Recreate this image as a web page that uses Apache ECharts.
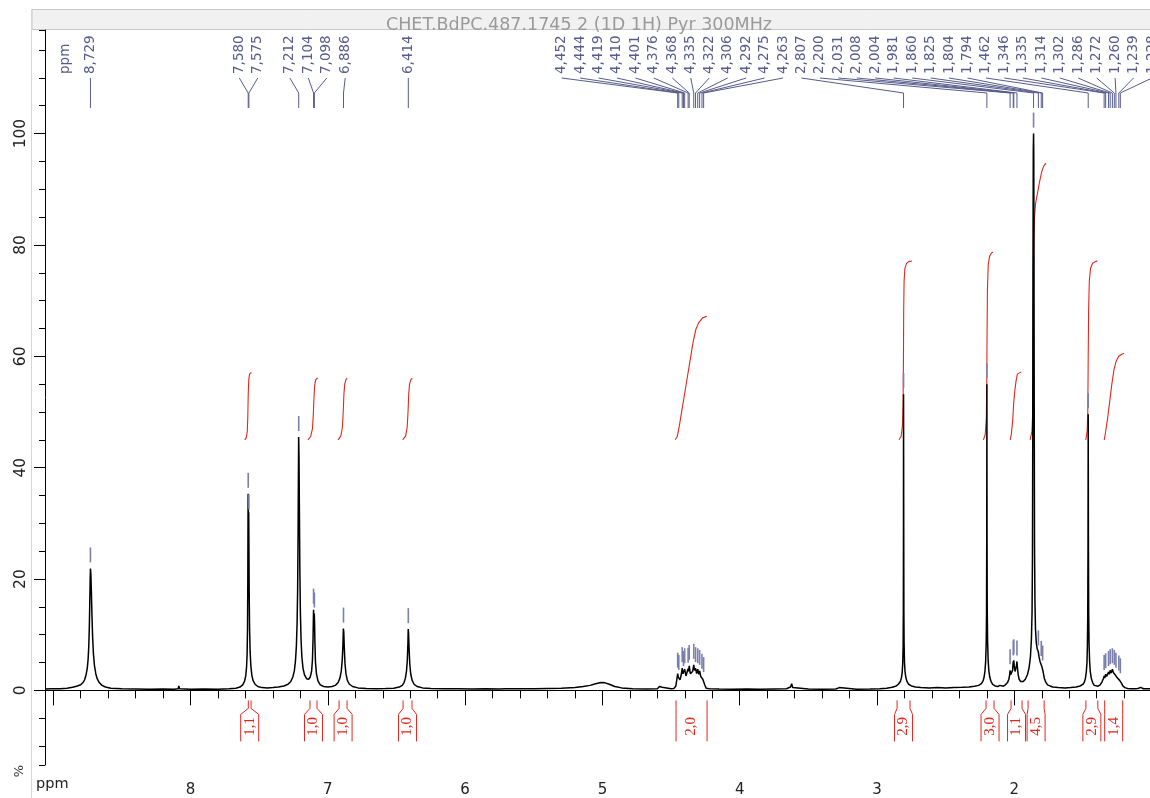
<!DOCTYPE html>
<html>
<head>
<meta charset="utf-8">
<script src="https://cdn.jsdelivr.net/npm/echarts@6/dist/echarts.min.js"></script>
<style>
  html, body { margin: 0; padding: 0; background: #ffffff; }
  #chart { width: 1150px; height: 798px; }
</style>
</head>
<body>
<div id="chart"></div>
<script>
// 1H NMR spectrum, pyridine-d5, 300 MHz
const TITLE = 'CHET.BdPC.487.1745 2 (1D 1H) Pyr 300MHz';
const X_RANGE = [1.012, 9.06];      // ppm, drawn right-to-left
const Y_RANGE = [-13.4, 118.6];     // relative intensity, %

// Spectrum trace [ppm, intensity] — aromatic part
const SPECTRUM_AROMATIC = [
  [9.06,0.25],[9.0,0.3],[8.95,0.3],[8.9,0.4],[8.86,0.55],[8.83,0.75],[8.8,1.0],[8.78,1.5],[8.77,2.0],
  [8.76,2.9],[8.752,4.0],[8.746,5.6],[8.741,8.0],[8.737,11.5],[8.734,15.5],[8.731,20],[8.729,21.9],
  [8.726,21.0],[8.722,17.5],[8.718,13.5],[8.713,9.5],[8.707,6.5],[8.7,4.5],[8.69,3.0],[8.68,2.1],
  [8.665,1.4],[8.645,0.9],[8.62,0.6],[8.58,0.4],[8.5,0.3],[8.4,0.25],[8.3,0.2],[8.2,0.25],[8.12,0.2],
  [8.09,0.3],[8.085,0.8],[8.08,0.3],[8.0,0.2],[7.9,0.25],[7.8,0.2],[7.72,0.3],[7.67,0.4],[7.64,0.6],
  [7.62,1.0],[7.607,1.6],[7.598,2.6],[7.592,4.2],[7.588,6.5],[7.585,11],[7.583,19],[7.5815,30],
  [7.5805,35.3],[7.5785,31.4],[7.5765,32.0],[7.575,27],[7.573,18],[7.57,11],[7.566,7],[7.561,4.5],
  [7.554,2.8],[7.545,1.8],[7.53,1.1],[7.51,0.7],[7.48,0.5],[7.44,0.45],[7.4,0.5],[7.36,0.6],[7.32,0.8],
  [7.29,1.1],[7.27,1.6],[7.255,2.4],[7.244,3.5],[7.236,5.2],[7.229,8],[7.224,12],[7.22,18],[7.217,27],
  [7.2145,38],[7.2125,45.5],[7.21,42],[7.207,32],[7.204,22],[7.2,14],[7.195,9],[7.189,6],[7.181,4],
  [7.17,2.8],[7.155,2.1],[7.14,2.0],[7.128,2.4],[7.118,3.5],[7.112,5.5],[7.108,9],[7.1055,12.5],
  [7.104,14.5],[7.1015,11.8],[7.099,13.8],[7.097,12.5],[7.094,8.5],[7.09,5],[7.083,3],[7.072,1.7],
  [7.055,1.0],[7.03,0.7],[7.0,0.6],[6.97,0.7],[6.945,0.9],[6.925,1.4],[6.912,2.2],[6.902,3.5],
  [6.895,5.5],[6.89,8.2],[6.887,11.1],[6.884,10.5],[6.88,7.5],[6.875,4.8],[6.868,3],[6.858,1.8],
  [6.843,1.1],[6.82,0.7],[6.78,0.45],[6.72,0.35],[6.65,0.3],[6.58,0.35],[6.52,0.4],[6.48,0.6],
  [6.458,0.9],[6.445,1.4],[6.435,2.2],[6.427,3.5],[6.421,5.5],[6.417,8.3],[6.4145,11],[6.412,10.3],
  [6.408,7.3],[6.403,4.7],[6.396,2.9],[6.386,1.8],[6.372,1.1],[6.35,0.7],[6.31,0.45],[6.25,0.35]
];

// Spectrum trace — middle part (water hump, CH multiplet)
const SPECTRUM_MIDDLE = [
  [6.15,0.3],[6.05,0.3],[5.95,0.25],[5.85,0.3],[5.75,0.25],[5.705,0.3],[5.7,0.6],[5.695,0.3],[5.6,0.3],
  [5.5,0.3],[5.4,0.35],[5.3,0.4],[5.2,0.5],[5.14,0.7],[5.09,0.9],[5.05,1.2],[5.01,1.4],[4.98,1.35],
  [4.95,1.1],[4.91,0.7],[4.86,0.45],[4.78,0.3],[4.68,0.25],[4.6,0.3],[4.585,0.7],[4.575,0.35],
  [4.565,0.55],[4.555,0.3],[4.5,0.3],[4.48,0.35],[4.465,0.8],[4.458,2.0],[4.452,3.0],[4.448,2.4],
  [4.444,2.6],[4.435,1.9],[4.426,2.8],[4.419,4.0],[4.414,3.0],[4.41,3.3],[4.405,2.9],[4.401,3.8],
  [4.392,2.6],[4.384,2.9],[4.376,3.9],[4.372,3.4],[4.368,4.4],[4.36,3.0],[4.35,2.8],[4.343,3.4],
  [4.335,4.6],[4.329,3.6],[4.322,4.0],[4.314,3.0],[4.306,3.8],[4.299,2.9],[4.292,3.5],[4.284,2.5],
  [4.275,2.8],[4.269,2.0],[4.263,2.2],[4.255,1.0],[4.245,0.4],[4.22,0.3],[4.15,0.25],[4.05,0.2],
  [3.95,0.25],[3.85,0.2],[3.75,0.25],[3.66,0.3],[3.63,0.6],[3.622,1.2],[3.614,0.5],[3.6,0.3],
  [3.5,0.25],[3.4,0.2],[3.3,0.25],[3.275,0.5],[3.265,0.25],[3.15,0.2],[3.05,0.25],[2.98,0.3]
];

// Spectrum trace — aliphatic part
const SPECTRUM_ALIPHATIC = [
  [2.93,0.4],[2.89,0.55],[2.86,0.8],[2.845,1.1],[2.83,1.6],[2.822,2.3],[2.817,3.2],[2.813,4.8],
  [2.81,8],[2.8085,14],[2.8075,30],[2.807,53.2],[2.8055,28],[2.8045,14],[2.803,8.5],[2.8,5],
  [2.796,3.3],[2.79,2.3],[2.782,1.6],[2.77,1.1],[2.75,0.8],[2.72,0.6],[2.68,0.5],[2.62,0.45],
  [2.56,0.5],[2.5,0.45],[2.44,0.5],[2.38,0.55],[2.33,0.6],[2.29,0.75],[2.26,0.9],[2.24,1.2],
  [2.228,1.7],[2.22,2.4],[2.214,3.5],[2.209,5.2],[2.205,8.5],[2.2025,14],[2.201,28],[2.2,55],
  [2.199,29],[2.1975,15],[2.195,9],[2.191,5.5],[2.186,3.6],[2.179,2.4],[2.17,1.6],[2.158,1.1],
  [2.14,0.8],[2.12,0.7],[2.105,0.9],[2.095,0.7],[2.08,0.75],[2.065,1.0],[2.05,1.4],[2.04,2.0],
  [2.034,2.8],[2.031,3.6],[2.027,2.8],[2.02,2.6],[2.013,3.6],[2.008,5.2],[2.006,4.6],[2.004,5.4],
  [2.0,4.2],[1.995,3.4],[1.988,3.5],[1.984,4.5],[1.981,5.2],[1.978,4.2],[1.972,2.8],[1.965,2.0],
  [1.955,1.6],[1.945,1.5],[1.935,1.6],[1.92,2.0],[1.905,2.8],[1.893,4],[1.883,6],[1.876,9],
  [1.871,14],[1.868,24],[1.866,45],[1.8645,75],[1.862,97],[1.86,100],[1.8585,96],[1.857,78],
  [1.855,48],[1.853,26],[1.85,16],[1.846,11],[1.84,8.5],[1.833,7.4],[1.826,7.0],[1.82,6.0],
  [1.813,5.2],[1.807,5.0],[1.804,5.1],[1.8,4.3],[1.796,4.3],[1.79,3.3],[1.782,2.2],[1.772,1.5],
  [1.758,1.0],[1.74,0.8],[1.72,0.6],[1.68,0.5],[1.63,0.45],[1.59,0.5],[1.55,0.6],[1.52,0.8],
  [1.5,1.1],[1.49,1.5],[1.482,2.2],[1.476,3.3],[1.471,5],[1.468,8],[1.4655,13],[1.4635,26],
  [1.462,49.6],[1.4605,27],[1.4585,14],[1.456,8.5],[1.452,5.3],[1.447,3.4],[1.44,2.2],[1.43,1.4],
  [1.418,0.9],[1.405,0.7],[1.39,0.75],[1.375,1.0],[1.362,1.5],[1.352,2.1],[1.346,2.6],[1.341,2.2],
  [1.335,2.9],[1.328,2.5],[1.32,2.7],[1.314,3.3],[1.308,2.9],[1.302,3.6],[1.295,3.1],[1.29,3.3],
  [1.286,3.8],[1.279,3.2],[1.272,3.5],[1.266,2.8],[1.26,3.0],[1.252,2.3],[1.245,2.2],[1.239,2.5],
  [1.233,1.8],[1.228,2.0],[1.22,1.3],[1.21,0.8],[1.195,0.5],[1.175,0.35],[1.15,0.3],[1.12,0.3],
  [1.1,0.35],[1.09,0.3],[1.08,0.55],[1.07,0.5],[1.06,0.3],[1.04,0.3],[1.012,0.3]
];

// Picked peaks: shift (ppm) and apex intensity
const PEAK_PPM = [
  8.729, 7.580, 7.575, 7.212, 7.104, 7.098, 6.886, 6.414,
  4.452, 4.444, 4.419, 4.410, 4.401, 4.376, 4.368, 4.335, 4.322, 4.306, 4.292, 4.275, 4.263,
  2.807, 2.200, 2.031, 2.008, 2.004, 1.981, 1.860, 1.825, 1.804, 1.794, 1.462,
  1.346, 1.335, 1.314, 1.302, 1.286, 1.272, 1.260, 1.239, 1.228
];
const PEAK_APEX = [
  21.9, 35.3, 31.4, 45.5, 14.5, 13.8, 11.1, 11.0,
  3.0, 2.6, 4.0, 3.3, 3.8, 3.9, 4.4, 4.6, 4.0, 3.8, 3.5, 2.8, 2.2,
  53.2, 55.0, 3.6, 5.2, 5.4, 5.2, 100, 7.0, 5.1, 4.3, 49.6,
  2.6, 2.9, 3.3, 3.6, 3.8, 3.5, 3.0, 2.5, 2.0
];

// Integral curves [ppm, running integral] — each starts at 45 %
const INT_758 = [[7.605,45],[7.594,45.4],[7.587,46.5],[7.583,49],[7.58,53],[7.576,55.8],[7.57,56.8],[7.557,57.1]];
const INT_710 = [[7.145,45],[7.125,45.6],[7.112,47],[7.106,49.5],[7.101,52.5],[7.096,54.8],[7.088,55.8],[7.075,56.1]];
const INT_689 = [[6.925,45],[6.905,45.7],[6.894,47.3],[6.888,50],[6.883,53.2],[6.877,55],[6.868,55.8],[6.86,56.1]];
const INT_641 = [[6.455,45],[6.433,45.7],[6.422,47.3],[6.416,50],[6.411,53.2],[6.405,55],[6.395,55.8],[6.385,56.1]];
const INT_435 = [[4.47,45],[4.455,45.6],[4.44,47.5],[4.42,50.5],[4.4,53.5],[4.38,56.5],[4.36,59.5],[4.34,62.5],[4.32,64.8],[4.3,66],[4.27,66.9],[4.24,67.2]];
const INT_281 = [[2.84,45],[2.825,45.6],[2.815,47.5],[2.81,52],[2.8075,60],[2.806,68],[2.803,73.5],[2.797,75.8],[2.785,76.7],[2.77,77],[2.745,77.1]];
const INT_220 = [[2.225,45],[2.212,46],[2.204,49],[2.201,55],[2.199,63],[2.196,72],[2.19,76.5],[2.18,78],[2.165,78.6],[2.155,78.7]];
const INT_200 = [[2.03,45],[2.022,46],[2.012,48.5],[2.005,51.5],[1.998,53.5],[1.988,55.5],[1.978,56.8],[1.965,57.1],[1.95,57.2]];
const INT_186 = [[1.885,45],[1.872,46.5],[1.866,50],[1.863,58],[1.861,70],[1.858,80],[1.853,85],[1.845,87.5],[1.83,89.5],[1.815,91.5],[1.8,93.2],[1.785,94.2],[1.77,94.7]];
const INT_146 = [[1.48,45],[1.47,46.5],[1.465,50],[1.462,60],[1.459,68.5],[1.454,73.5],[1.445,75.8],[1.43,76.7],[1.41,77],[1.395,77.1]];
const INT_130 = [[1.345,45],[1.335,46.5],[1.32,49],[1.305,52],[1.29,55],[1.275,57.5],[1.26,59],[1.24,60],[1.215,60.4],[1.2,60.5]];
const INTEGRAL_CURVES = [INT_758, INT_710, INT_689, INT_641, INT_435, INT_281, INT_220, INT_200, INT_186, INT_146, INT_130];

// Integration regions: [from ppm, to ppm, relative area]
const INTEGRAL_FROM = [7.579, 7.130, 6.918, 6.452, 4.464, 2.854, 2.206, 2.024, 1.900, 1.479, 1.342];
const INTEGRAL_TO   = [7.559, 7.079, 6.860, 6.387, 4.238, 2.760, 2.148, 1.944, 1.783, 1.392, 1.211];
const INTEGRAL_AREA = ['1,1', '1,0', '1,0', '1,0', '2,0', '2,9', '3,0', '1,1', '4,5', '2,9', '1,4'];

// Axis ticks
const X_MAJOR_STEP = 1, X_MINOR_STEP = 0.2;
const X_LABELLED = [2, 3, 4, 5, 6, 7, 8];
const Y_MAJOR_STEP = 20, Y_MINOR_STEP = 5;

const LABEL_COLOR = '#575c8c';
const MARK_COLOR = '#7b7fab';
const INT_COLOR = '#e2261c';
const FONT = '"DejaVu Sans", "Noto Sans", sans-serif';

// Spread peak labels along the top so they don't collide: groups of
// overlapping labels are centred on their peaks and kept inside [lo, hi].
function spreadLabels(xs, gap, lo, hi) {
  const clusters = xs.map(x => ({ n: 1, sum: x }));
  const start = c => {
    let p = c.sum / c.n - (c.n - 1) * gap / 2;
    p = Math.min(p, hi - (c.n - 1) * gap);
    return Math.max(p, lo);
  };
  let merged = true;
  while (merged) {
    merged = false;
    for (let k = 0; k < clusters.length - 1; k++) {
      const a = clusters[k], b = clusters[k + 1];
      if (start(a) + a.n * gap > start(b) + 0.01) {
        a.n += b.n; a.sum += b.sum;
        clusters.splice(k + 1, 1);
        merged = true;
        break;
      }
    }
  }
  const out = [];
  clusters.forEach(c => { const p = start(c); for (let j = 0; j < c.n; j++) out.push(p + j * gap); });
  return out;
}

const fmtPpm = v => v.toFixed(3).replace('.', ',');
const isStep = (v, s) => Math.abs(v / s - Math.round(v / s)) < 1e-6;

const chart = echarts.init(document.getElementById('chart'));

const axisLine = { show: true, lineStyle: { color: '#000', width: 1 } };

const option = {
  animation: false,
  backgroundColor: '#ffffff',
  title: {
    text: TITLE, left: 574, top: 11, textAlign: 'center',
    textStyle: { fontFamily: FONT, fontSize: 17.5, fontWeight: 'normal', color: '#9a9a9a' }
  },
  graphic: [
    { type: 'rect', z: -1, shape: { x: 32, y: 9.5, width: 1130, height: 20 },
      style: { fill: '#f1f1f1', stroke: '#c9c9c9', lineWidth: 1 } },
    { type: 'line', shape: { x1: 31.5, y1: 9.5, x2: 31.5, y2: 798 }, style: { stroke: '#d6d6d6', lineWidth: 1 } },
    { type: 'text', x: 65, y: 74, rotation: Math.PI / 2,
      style: { text: 'ppm', font: '13.5px ' + FONT, fill: LABEL_COLOR, textAlign: 'left', textVerticalAlign: 'middle' } },
    { type: 'text', x: 20, y: 771, rotation: Math.PI / 2,
      style: { text: '%', font: '13px ' + FONT, fill: '#333', textAlign: 'center', textVerticalAlign: 'middle' } },
    { type: 'text', x: 36, y: 777,
      style: { text: 'ppm', font: '14.5px ' + FONT, fill: '#222', textAlign: 'left', textVerticalAlign: 'top' } }
  ],
  grid: { left: 45, right: 0, top: 30, bottom: 31, containLabel: false },
  xAxis: [
    { type: 'value', position: 'bottom', inverse: true, min: X_RANGE[0], max: X_RANGE[1],
      minInterval: X_MINOR_STEP, maxInterval: X_MINOR_STEP,
      axisLine, axisTick: { show: true, length: 8, lineStyle: { color: '#000' } },
      axisLabel: { show: false }, splitLine: { show: false } },
    { type: 'value', position: 'bottom', inverse: true, min: X_RANGE[0], max: X_RANGE[1],
      minInterval: X_MAJOR_STEP, maxInterval: X_MAJOR_STEP,
      axisLine: { show: false }, axisTick: { show: true, length: 15, lineStyle: { color: '#000' } },
      axisLabel: { show: true, margin: 18, fontFamily: FONT, fontSize: 15, color: '#222',
        showMinLabel: false, showMaxLabel: false,
        formatter: v => (isStep(v, X_MAJOR_STEP) && X_LABELLED.includes(Math.round(v))) ? String(Math.round(v)) : '' },
      splitLine: { show: false } }
  ],
  yAxis: [
    { type: 'value', position: 'left', min: Y_RANGE[0], max: Y_RANGE[1],
      minInterval: Y_MINOR_STEP, maxInterval: Y_MINOR_STEP,
      axisLine, axisTick: { show: true, length: 6, lineStyle: { color: '#000' } },
      axisLabel: { show: false }, splitLine: { show: false } },
    { type: 'value', position: 'left', min: Y_RANGE[0], max: Y_RANGE[1],
      minInterval: Y_MAJOR_STEP, maxInterval: Y_MAJOR_STEP,
      axisLine: { show: false }, axisTick: { show: true, length: 11, lineStyle: { color: '#000' } },
      axisLabel: { show: true, rotate: 90, margin: 16, fontFamily: FONT, fontSize: 15.5, color: '#222',
        showMinLabel: false, showMaxLabel: false,
        formatter: v => isStep(v, Y_MAJOR_STEP) ? String(Math.round(v)) : '' },
      splitLine: { show: false } }
  ],
  series: [
    {
      name: 'spectrum', type: 'line', xAxisIndex: 0, yAxisIndex: 0,
      data: SPECTRUM_AROMATIC.concat(SPECTRUM_MIDDLE, SPECTRUM_ALIPHATIC),
      showSymbol: false, symbol: 'none', silent: true, z: 3,
      lineStyle: { color: '#000', width: 1.5 }
    },
    ...INTEGRAL_CURVES.map(curve => ({
      type: 'line', xAxisIndex: 0, yAxisIndex: 0, data: curve,
      showSymbol: false, symbol: 'none', silent: true, z: 2,
      lineStyle: { color: INT_COLOR, width: 1.1 }
    })),
    {
      // short tick above every picked peak
      type: 'custom', xAxisIndex: 0, yAxisIndex: 0, silent: true, z: 4,
      data: PEAK_PPM.map((p, i) => [p, PEAK_APEX[i]]),
      renderItem(params, api) {
        const pt = api.coord([api.value(0), api.value(1)]);
        return { type: 'line', shape: { x1: pt[0], y1: pt[1] - 6, x2: pt[0], y2: pt[1] - 21 },
          style: { stroke: MARK_COLOR, lineWidth: 1.6 } };
      }
    },
    {
      // peak shift labels with leader lines
      type: 'custom', xAxisIndex: 0, yAxisIndex: 0, silent: true, z: 5,
      data: [[X_RANGE[0], 0]],
      renderItem(params, api) {
        const cs = params.coordSys;
        const xs = PEAK_PPM.map(p => api.coord([p, 0])[0]);
        const pos = spreadLabels(xs, 18.45, cs.x + 12, cs.x + cs.width + 2);
        const children = [];
        xs.forEach((px, i) => {
          children.push({ type: 'polyline',
            shape: { points: [[pos[i], 78], [px, 93], [px, 108]] },
            style: { stroke: LABEL_COLOR, lineWidth: 1, fill: null } });
          children.push({ type: 'text', x: pos[i], y: 74, rotation: Math.PI / 2,
            style: { text: fmtPpm(PEAK_PPM[i]), font: '13.5px ' + FONT, fill: LABEL_COLOR,
              textAlign: 'left', textVerticalAlign: 'middle' } });
        });
        return { type: 'group', children };
      }
    },
    {
      // integration brackets and values below the baseline
      type: 'custom', xAxisIndex: 0, yAxisIndex: 0, silent: true, z: 4,
      data: INTEGRAL_FROM.map((f, i) => [f, INTEGRAL_TO[i], i]),
      renderItem(params, api) {
        const x1 = api.coord([api.value(0), 0])[0];
        const x2 = api.coord([api.value(1), 0])[0];
        const y0 = api.coord([0, 0])[1];
        const c = (x1 + x2) / 2;
        const hw = Math.max((x2 - x1) / 2, 9);
        const st = { stroke: INT_COLOR, lineWidth: 1, fill: null };
        return { type: 'group', children: [
          { type: 'polyline', shape: { points: [[x1, y0 + 10], [x1, y0 + 18], [c - hw, y0 + 24], [c - hw, y0 + 51]] }, style: st },
          { type: 'polyline', shape: { points: [[x2, y0 + 10], [x2, y0 + 18], [c + hw, y0 + 24], [c + hw, y0 + 51]] }, style: st },
          { type: 'text', x: c, y: y0 + 36, rotation: Math.PI / 2,
            style: { text: INTEGRAL_AREA[api.value(2)], font: '15px "Liberation Serif", serif', fill: INT_COLOR,
              textAlign: 'center', textVerticalAlign: 'middle' } }
        ] };
      }
    }
  ]
};

chart.setOption(option);
</script>
</body>
</html>
